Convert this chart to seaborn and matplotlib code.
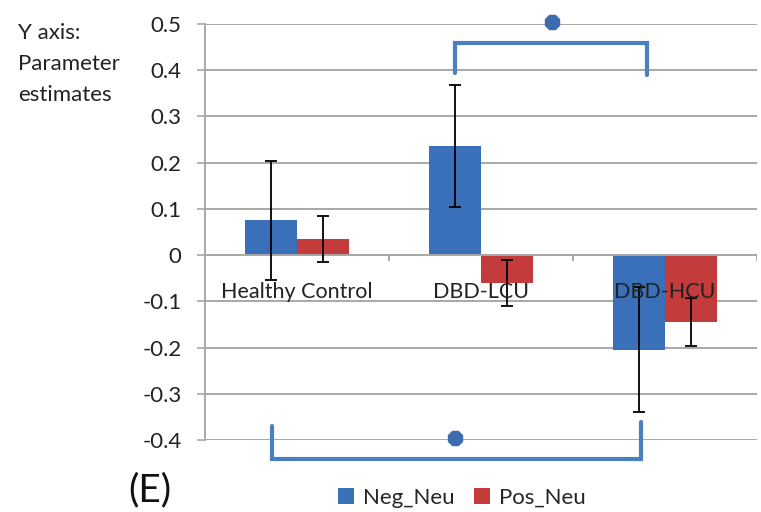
import numpy as np
import pandas as pd
import matplotlib
matplotlib.use('Agg')
import matplotlib.pyplot as plt
import seaborn as sns

# Data
groups = ['Healthy Control', 'DBD-LCU', 'DBD-HCU']
conditions = ['Neg_Neu', 'Pos_Neu']
neg_neu = [0.075, 0.237, -0.205]
pos_neu = [0.035, -0.06, -0.145]
neg_err = [0.128, 0.132, 0.135]
pos_err = [0.05, 0.05, 0.052]
y_ticks = [0.5, 0.4, 0.3, 0.2, 0.1, 0, -0.1, -0.2, -0.3, -0.4]

sns.set_style('white')
plt.rcParams['font.family'] = ['Lato', 'DejaVu Sans']

df = pd.DataFrame({
    'group': groups * 2,
    'condition': [conditions[0]] * 3 + [conditions[1]] * 3,
    'value': neg_neu + pos_neu,
    'err': neg_err + pos_err,
})

fig = plt.figure(figsize=(7.61, 5.12), dpi=100)
ax = fig.add_axes([0.2694, 0.1406, 0.7253, 0.8125])

palette = {'Neg_Neu': '#3a70ba', 'Pos_Neu': '#c43b3b'}
sns.barplot(data=df, x='group', y='value', hue='condition', palette=palette,
            width=0.57, gap=0, errorbar=None, saturation=1, linewidth=0,
            ax=ax, legend=True)

# Error bars on bar centers
for cont, cond in zip(ax.containers, conditions):
    errs = df.loc[df['condition'] == cond, 'err'].values
    xs = [b.get_x() + b.get_width() / 2 for b in cont]
    hs = [b.get_height() for b in cont]
    ax.errorbar(xs, hs, yerr=errs, fmt='none', ecolor='black',
                elinewidth=1.3, capsize=4.5, capthick=1.3, zorder=5)

ax.set_ylim(-0.4, 0.5)
ax.set_xlim(-0.5, 2.5)
ax.set_yticks(y_ticks)
ax.set_yticklabels([f'{t:g}' for t in y_ticks], fontsize=16, color='#222222')
ax.yaxis.grid(True, color='#a8a8a8', linewidth=1.4)
ax.set_axisbelow(True)
ax.tick_params(axis='y', length=6, color='#a8a8a8', width=1.2, pad=11, left=True)
ax.set_xticks([])
ax.set_xlabel('')
ax.set_ylabel('')
for s in ['top', 'right', 'bottom']:
    ax.spines[s].set_visible(False)
ax.spines['left'].set_color('#a8a8a8')
ax.spines['left'].set_linewidth(1.4)

# Zero axis line with category divider ticks
ax.axhline(0, color='#a8a8a8', linewidth=1.4, zorder=1)
ax.vlines([0.5, 1.5, 2.5], 0, -0.012, color='#a8a8a8', linewidth=1.4)

# Category labels sitting at the zero line
for i, g in enumerate(groups):
    ax.text(i, -0.08, g, ha='center', va='center', fontsize=15.5, color='#222222', zorder=6)

# Significance brackets
bc = '#4a7fc0'
mc = '#3d6cae'
ax.plot([0.86, 0.86, 1.9, 1.9], [0.395, 0.46, 0.46, 0.39],
        color=bc, linewidth=3, clip_on=False, solid_joinstyle='miter')
ax.plot([1.386], [0.505], marker='8', markersize=11, color=mc, clip_on=False)
ax.plot([-0.136, -0.136, 1.87, 1.87], [-0.37, -0.44, -0.44, -0.362],
        color=bc, linewidth=3, clip_on=False, solid_joinstyle='miter')
ax.plot([0.86], [-0.395], marker='8', markersize=11, color=mc, clip_on=False)

# Legend at bottom
handles, labels = ax.get_legend_handles_labels()
ax.legend_.remove()
fig.legend(handles, labels, loc='center', bbox_to_anchor=(0.607, 0.028), ncol=2,
           frameon=False, fontsize=16, handlelength=0.7, handleheight=0.7,
           handletextpad=0.4, columnspacing=0.9)

fig.text(0.024, 0.955, 'Y axis:\nParameter\nestimates', ha='left', va='top',
         fontsize=16, color='#222222', linespacing=1.7)
fig.text(0.168, 0.042, '(E)', ha='left', va='center', fontsize=28, color='#111111')

plt.savefig('out.png', dpi=100)
